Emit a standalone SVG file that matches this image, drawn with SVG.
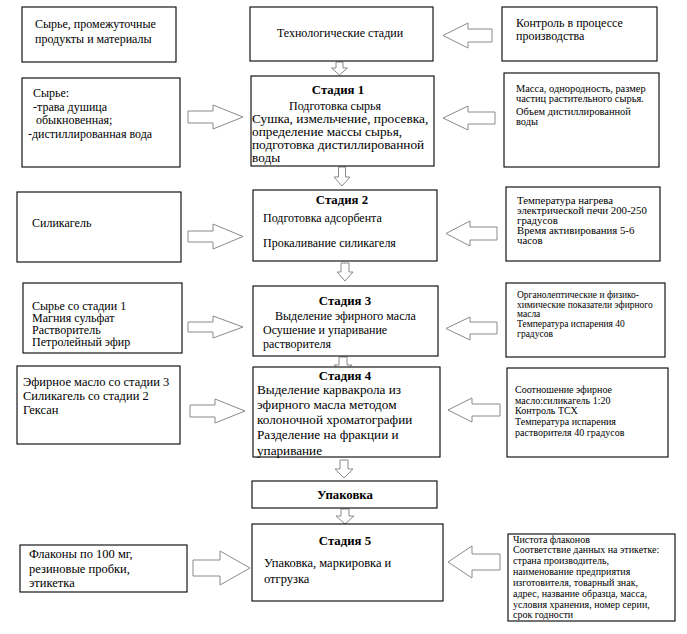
<svg xmlns="http://www.w3.org/2000/svg" width="687" height="634" viewBox="0 0 687 634" font-family="'Liberation Serif', 'Times New Roman', serif">
<defs>
<style>
.box{fill:#fff;stroke:#000;stroke-width:1.1}
.arr{fill:#fff;stroke:#8a8a8a;stroke-width:1}
text{font-family:'Liberation Serif','Times New Roman',serif;fill:#000}
.t12{font-size:12px}
.t125{font-size:12.5px}
.t13{font-size:13.3px}
.t132{font-size:13.2px}
.b{font-weight:bold;font-size:12.8px}
.s104{font-size:10.4px}
.s108{font-size:10.8px}
.s94{font-size:9.5px}
.s10{font-size:10px}
.mid{text-anchor:middle}
</style>
</defs>
<rect width="687" height="634" fill="#fff"/>
<g id="connectors">
<polygon class="arr" points="492,29 468,29 468,23 443,35.5 468,48 468,42 492,42"/>
<polygon class="arr" points="336,62 343,62 343,68 347.5,68 339.5,75 331.5,68 336,68"/>
<polygon class="arr" points="188,111 213,111 213,105 243,117 213,129 213,123 188,123"/>
<polygon class="arr" points="495,112 468,112 468,106 443,118 468,130 468,124 495,124"/>
<polygon class="arr" points="338.5,167 345.5,167 345.5,177 350,177 342,186 334,177 338.5,177"/>
<polygon class="arr" points="188,231 213,231 213,224 243,236.5 213,249 213,242 188,242"/>
<polygon class="arr" points="497,227 470,227 470,221 446,233.5 470,246 470,240 497,240"/>
<polygon class="arr" points="341,263 349,263 349,272 353,272 345,281 337,272 341,272"/>
<polygon class="arr" points="188,322 213,322 213,316 243,327 213,338 213,332 188,332"/>
<polygon class="arr" points="497,322 470,322 470,317 446,328.5 470,340 470,334 497,334"/>
<polygon class="arr" points="339,357 347,357 347,365 352,365 343,373 334,365 339,365"/>
<polygon class="arr" points="190,405 215,405 215,399 245,411 215,423 215,417 190,417"/>
<polygon class="arr" points="500,404 472,404 472,398 448,410 472,422 472,416 500,416"/>
<polygon class="arr" points="340,460 348,460 348,469 353,469 344,478 335,469 340,469"/>
<polygon class="arr" points="341,509 349,509 349,516 354,516 345,524 336,516 341,516"/>
<polygon class="arr" points="193,560 220,560 220,551 250,568 220,585 220,576 193,576"/>
<polygon class="arr" points="500,554 472,554 472,546 448,562 472,578 472,570 500,570"/>
</g>
<g id="n-header-left">
<rect class="box" x="22" y="7" width="154" height="55"/>
<text class="t12" x="35" y="28">Сырье, промежуточные</text>
<text class="t12" x="35" y="43">продукты и материалы</text>
</g>
<g id="n-header-center">
<rect class="box" x="250" y="7" width="183" height="54"/>
<text class="t12 mid" x="340" y="37">Технологические стадии</text>
</g>
<g id="n-header-right">
<rect class="box" x="502" y="7" width="155" height="54"/>
<text class="t12" x="516" y="27">Контроль в процессе</text>
<text class="t12" x="516" y="40">производства</text>
</g>
<g id="n-in1">
<rect class="box" x="22" y="78" width="158" height="89"/>
<text class="t12" x="33" y="97">Сырье:</text>
<text class="t12" x="33" y="111"> -трава душица</text>
<text class="t12" x="36" y="124">обыкновенная;</text>
<text class="t12" x="28" y="138">-дистиллированная вода</text>
</g>
<g id="n-stage1">
<rect class="box" x="251" y="76" width="183" height="90"/>
<text class="b mid" x="338" y="94">Стадия 1</text>
<text class="t12 mid" x="335" y="110">Подготовка сырья</text>
<text class="t13" x="252" y="123">Сушка, измельчение, просевка,</text>
<text class="t13" x="252" y="136">определение массы сырья,</text>
<text class="t13" x="252" y="149">подготовка дистиллированной</text>
<text class="t13" x="252" y="162">воды</text>
</g>
<g id="n-ctl1">
<rect class="box" x="504" y="73" width="155" height="94"/>
<text class="s104" x="516" y="92">Масса, однородность, размер</text>
<text class="s104" x="516" y="102">частиц растительного сырья.</text>
<text class="s104" x="516" y="115">Объем дистиллированной</text>
<text class="s104" x="516" y="125">воды</text>
</g>
<g id="n-in2">
<rect class="box" x="17" y="192" width="164" height="70"/>
<text class="t12" x="32" y="227">Силикагель</text>
</g>
<g id="n-stage2">
<rect class="box" x="253" y="190" width="184" height="71"/>
<text class="b mid" x="342" y="204">Стадия 2</text>
<text class="t12" x="263" y="222">Подготовка адсорбента</text>
<text class="t12" x="263" y="247">Прокаливание силикагеля</text>
</g>
<g id="n-ctl2">
<rect class="box" x="506" y="187" width="154" height="74"/>
<text class="s108" x="517" y="204">Температура нагрева</text>
<text class="s108" x="517" y="214">электрической печи 200-250</text>
<text class="s108" x="517" y="224">градусов</text>
<text class="s108" x="517" y="234">Время активирования 5-6</text>
<text class="s108" x="517" y="244">часов</text>
</g>
<g id="n-in3">
<rect class="box" x="23" y="283" width="159" height="70"/>
<text class="t12" x="32" y="310">Сырье со стадии 1</text>
<text class="t12" x="32" y="322">Магния сульфат</text>
<text class="t12" x="32" y="334">Растворитель</text>
<text class="t12" x="32" y="346">Петролейный эфир</text>
</g>
<g id="n-stage3">
<rect class="box" x="253" y="286" width="185" height="70"/>
<text class="b mid" x="345" y="305">Стадия 3</text>
<text class="t12" x="275" y="320">Выделение эфирного масла</text>
<text class="t12" x="263" y="334">Осушение и упаривание</text>
<text class="t12" x="263" y="348">растворителя</text>
</g>
<g id="n-ctl3">
<rect class="box" x="506" y="283" width="159" height="74"/>
<text class="s94" x="517" y="298">Органолептические и физико-</text>
<text class="s94" x="517" y="308">химические показатели эфирного</text>
<text class="s94" x="517" y="317">масла</text>
<text class="s94" x="517" y="327">Температура испарения 40</text>
<text class="s94" x="517" y="337">градусов</text>
</g>
<g id="n-in4">
<rect class="box" x="17" y="366" width="163" height="78"/>
<text class="t125" x="23" y="386">Эфирное масло со стадии 3</text>
<text class="t125" x="23" y="400">Силикагель со стадии 2</text>
<text class="t125" x="23" y="414">Гексан</text>
</g>
<g id="n-stage4">
<rect class="box" x="253" y="367" width="187" height="90"/>
<text class="b mid" x="345" y="380">Стадия 4</text>
<text class="t132" x="257" y="394">Выделение карвакрола из</text>
<text class="t132" x="257" y="409">эфирного масла методом</text>
<text class="t132" x="257" y="424">колоночной хроматографии</text>
<text class="t132" x="257" y="439">Разделение на фракции и</text>
<text class="t132" x="257" y="455">упаривание</text>
</g>
<g id="n-ctl4">
<rect class="box" x="507" y="368" width="161" height="89"/>
<text class="s10" x="515" y="393">Соотношение эфирное</text>
<text class="s10" x="515" y="404">масло:силикагель 1:20</text>
<text class="s10" x="515" y="414">Контроль ТСХ</text>
<text class="s10" x="515" y="425">Температура испарения</text>
<text class="s10" x="515" y="436">растворителя 40 градусов</text>
</g>
<g id="n-pack">
<rect class="box" x="252" y="481" width="185" height="27"/>
<text class="b mid" x="345" y="499">Упаковка</text>
</g>
<g id="n-in5">
<rect class="box" x="20" y="545" width="167" height="47"/>
<text class="t125" x="29" y="558">Флаконы по 100 мг,</text>
<text class="t125" x="29" y="573">резиновые пробки,</text>
<text class="t125" x="29" y="587">этикетка</text>
</g>
<g id="n-stage5">
<rect class="box" x="252" y="524" width="191" height="77"/>
<text class="b mid" x="345" y="545">Стадия 5</text>
<text class="t125" x="264" y="567">Упаковка, маркировка и</text>
<text class="t125" x="264" y="583">отгрузка</text>
</g>
<g id="n-ctl5">
<rect class="box" x="508" y="534" width="167" height="87"/>
<text class="s10" x="513" y="543">Чистота флаконов</text>
<text class="s10" x="513" y="553">Соответствие данных на этикетке:</text>
<text class="s10" x="513" y="564">страна производитель,</text>
<text class="s10" x="513" y="575">наименование предприятия</text>
<text class="s10" x="513" y="586">изготовителя, товарный знак,</text>
<text class="s10" x="513" y="597">адрес, название образца, масса,</text>
<text class="s10" x="513" y="608">условия хранения, номер серии,</text>
<text class="s10" x="513" y="618">срок годности</text>
</g>
</svg>
